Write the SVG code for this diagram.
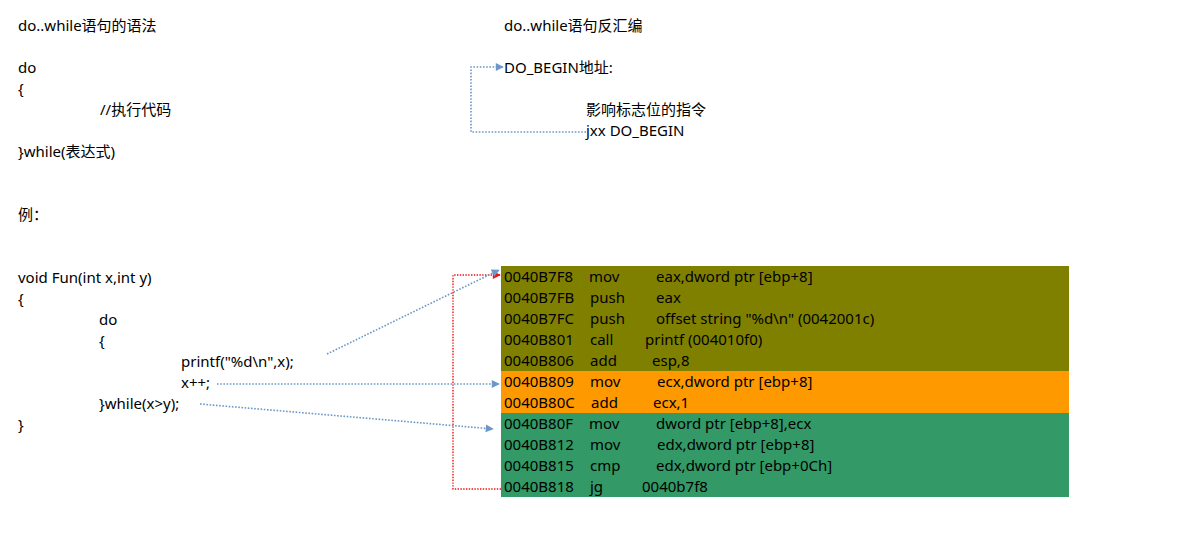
<svg xmlns="http://www.w3.org/2000/svg" width="1194" height="535" viewBox="0 0 1194 535">
<style>
text{font-family:"Noto Sans","Noto Sans CJK SC",sans-serif;font-size:15px;fill:#000}
.blue{fill:none;stroke:#6d97c8;stroke-width:1.6;stroke-dasharray:1.6 1.6}
.red{fill:none;stroke:#f01010;stroke-width:1.4;stroke-dasharray:1.4 1.4}
</style>
<defs>
<marker id="ab" viewBox="0 0 10 10" refX="9" refY="5" markerWidth="9" markerHeight="8" markerUnits="userSpaceOnUse" orient="auto"><path d="M0,0 L10,5 L0,10 z" fill="#6d97c8"/></marker>
<marker id="ar" viewBox="0 0 10 10" refX="9" refY="5" markerWidth="9" markerHeight="8" markerUnits="userSpaceOnUse" orient="auto"><path d="M0,0 L10,5 L0,10 z" fill="#f01010"/></marker>
</defs>
<rect width="1194" height="535" fill="#fff"/>
<g id="syntax">
<text x="18" y="31">do..while语句的语法</text>
<text x="18" y="73">do</text>
<text x="18" y="94">{</text>
<text x="100" y="115">//执行代码</text>
<text x="18" y="157">}while(表达式)</text>
<text x="18" y="220">例：</text>
</g>
<g id="example">
<text x="18" y="283">void Fun(int x,int y)</text>
<text x="18" y="304">{</text>
<text x="99" y="325">do</text>
<text x="99" y="346">{</text>
<text x="181" y="367">printf("%d\n",x);</text>
<text x="181" y="388">x++;</text>
<text x="99" y="409">}while(x&gt;y);</text>
<text x="18" y="430">}</text>
</g>
<g id="disasm-template">
<text x="504" y="31">do..while语句反汇编</text>
<text x="504" y="73">DO_BEGIN地址:</text>
<text x="586" y="115">影响标志位的指令</text>
<text x="586" y="136">jxx DO_BEGIN</text>
</g>
<g id="asm">
<rect x="501" y="266" width="568" height="105" fill="#808000"/>
<rect x="501" y="371" width="568" height="42" fill="#ff9900"/>
<rect x="501" y="413" width="568" height="84" fill="#339966"/>
<text x="504" y="282">0040B7F8</text><text x="589" y="282">mov</text><text x="656" y="282">eax,dword ptr [ebp+8]</text>
<text x="504" y="303">0040B7FB</text><text x="590" y="303">push</text><text x="656" y="303">eax</text>
<text x="504" y="324">0040B7FC</text><text x="590" y="324">push</text><text x="656" y="324">offset string "%d\n" (0042001c)</text>
<text x="504" y="345">0040B801</text><text x="590" y="345">call</text><text x="645" y="345">printf (004010f0)</text>
<text x="504" y="366">0040B806</text><text x="590" y="366">add</text><text x="652" y="366">esp,8</text>
<text x="504" y="387">0040B809</text><text x="590" y="387">mov</text><text x="657" y="387">ecx,dword ptr [ebp+8]</text>
<text x="504" y="408">0040B80C</text><text x="591" y="408">add</text><text x="653" y="408">ecx,1</text>
<text x="504" y="429">0040B80F</text><text x="589" y="429">mov</text><text x="656" y="429">dword ptr [ebp+8],ecx</text>
<text x="504" y="450">0040B812</text><text x="590" y="450">mov</text><text x="657" y="450">edx,dword ptr [ebp+8]</text>
<text x="504" y="471">0040B815</text><text x="590" y="471">cmp</text><text x="656" y="471">edx,dword ptr [ebp+0Ch]</text>
<text x="504" y="492">0040B818</text><text x="590" y="492">jg</text><text x="642" y="492">0040b7f8</text>
</g>
<g id="connectors">
<path class="blue" d="M586,132 H471 V67 H503" marker-end="url(#ab)"/>
<path class="red" d="M501,489 H453 V275 H500" marker-end="url(#ar)"/>
<path class="blue" d="M327,354 L499,270" marker-end="url(#ab)"/>
<path class="blue" d="M217,384 H499" marker-end="url(#ab)"/>
<path class="blue" d="M200,404 L493,429" marker-end="url(#ab)"/>
</g>
</svg>
